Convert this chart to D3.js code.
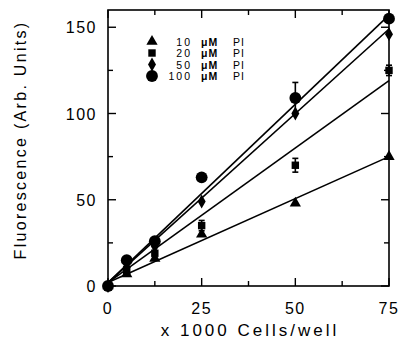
<!DOCTYPE html>
<html>
<head>
<meta charset="utf-8">
<script src="https://cdn.jsdelivr.net/npm/d3@7"></script>
<style>
  body { margin: 0; background: #fff; }
  text { font-family: "Liberation Sans", Arial, sans-serif; fill: #000; }
</style>
</head>
<body>
<div id="wrapper"></div>
<script>
// data
const cells = [0, 5, 12.5, 25, 50, 75];
const pi10 = [0, 7, 16, 30, 48, 75];
const pi20 = [0, 9, 19, 35, 70, 125];
const pi50 = [0, 11, 23, 49, 100, 146];
const pi100 = [0, 15, 26, 63, 109, 155];

// error bars (x, y, +/-)
const errBars = [
  { x: 50, y: 109, e: 9 },
  { x: 50, y: 70, e: 4 },
  { x: 25, y: 35, e: 3 },
  { x: 75, y: 125, e: 3 }
];

// fitted lines: value at x = 0 and at x = 75
const fitStart = [2, 2, 2, 2];
const fitEnd = [75, 119, 149, 157];

const seriesNames = ["10 \u03bcM PI", "20 \u03bcM PI", "50 \u03bcM PI", "100 \u03bcM PI"];
const seriesShapes = ["triangle", "square", "diamond", "circle"];
const seriesValues = [pi10, pi20, pi50, pi100];

const xTicks = [0, 25, 50, 75];
const xMinor = [12.5, 37.5, 62.5];
const yTicks = [0, 50, 100, 150];
const yMinor = [25, 75, 125];

const width = 401, height = 349;
const margin = { top: 10, right: 12, bottom: 63, left: 108 };
const bw = width - margin.left - margin.right;
const bh = height - margin.top - margin.bottom;

const svg = d3.select("#wrapper").append("svg")
  .attr("width", width).attr("height", height);
const bounds = svg.append("g")
  .attr("transform", `translate(${margin.left},${margin.top})`);

const xScale = d3.scaleLinear().domain([0, 75]).range([0, bw]);
const yScale = d3.scaleLinear().domain([0, 160]).range([bh, 0]);

// frame
bounds.append("rect")
  .attr("width", bw).attr("height", bh)
  .attr("fill", "none").attr("stroke", "#000").attr("stroke-width", 1.6);

// inward ticks on all four sides
const tickG = bounds.append("g").attr("stroke", "#000").attr("stroke-width", 1.4);
xTicks.concat(xMinor).forEach(v => {
  const len = xTicks.includes(v) ? 8 : 5;
  tickG.append("line").attr("x1", xScale(v)).attr("x2", xScale(v)).attr("y1", bh).attr("y2", bh - len);
  tickG.append("line").attr("x1", xScale(v)).attr("x2", xScale(v)).attr("y1", 0).attr("y2", len);
});
yTicks.concat(yMinor).forEach(v => {
  const len = yTicks.includes(v) ? 8 : 5;
  tickG.append("line").attr("y1", yScale(v)).attr("y2", yScale(v)).attr("x1", 0).attr("x2", len);
  tickG.append("line").attr("y1", yScale(v)).attr("y2", yScale(v)).attr("x1", bw).attr("x2", bw - len);
});

// tick labels
bounds.selectAll(".xlab").data(xTicks).enter().append("text")
  .attr("x", d => xScale(d)).attr("y", bh + 28)
  .attr("text-anchor", "middle")
  .style("font-size", "16px").style("letter-spacing", "1.5px")
  .text(d => d);
bounds.selectAll(".ylab").data(yTicks).enter().append("text")
  .attr("x", -11).attr("y", d => yScale(d) + 6)
  .attr("text-anchor", "end")
  .style("font-size", "16px").style("letter-spacing", "1.5px")
  .text(d => d);

// axis titles
svg.append("text")
  .attr("x", 250).attr("y", 336)
  .attr("text-anchor", "middle")
  .style("font-size", "17px").style("letter-spacing", "3px")
  .text("x 1000 Cells/well");
svg.append("text")
  .attr("transform", `translate(26,140) rotate(-90)`)
  .attr("text-anchor", "middle")
  .style("font-size", "16px").style("letter-spacing", "2.3px")
  .text("Fluorescence (Arb. Units)");

// fit lines
const lineG = bounds.append("g").attr("stroke", "#000").attr("stroke-width", 1.6);
fitStart.forEach((s, i) => {
  lineG.append("line")
    .attr("x1", xScale(0)).attr("y1", yScale(s))
    .attr("x2", xScale(75)).attr("y2", yScale(fitEnd[i]));
});

// error bars
const errG = bounds.append("g").attr("stroke", "#000").attr("stroke-width", 1.6);
errBars.forEach(d => {
  const x = xScale(d.x);
  errG.append("line").attr("x1", x).attr("x2", x).attr("y1", yScale(d.y - d.e)).attr("y2", yScale(d.y + d.e));
  errG.append("line").attr("x1", x - 3).attr("x2", x + 3).attr("y1", yScale(d.y + d.e)).attr("y2", yScale(d.y + d.e));
  errG.append("line").attr("x1", x - 3).attr("x2", x + 3).attr("y1", yScale(d.y - d.e)).attr("y2", yScale(d.y - d.e));
});

const symbolTypes = {
  triangle: d3.symbol().type(d3.symbolTriangle).size(55),
  square: d3.symbol().type(d3.symbolSquare).size(55),
  diamond: d3.symbol().type(d3.symbolDiamond).size(55),
  circle: d3.symbol().type(d3.symbolCircle).size(110)
};

// points
seriesValues.forEach((vals, i) => {
  bounds.append("g").selectAll("path")
    .data(vals).enter().append("path")
    .attr("transform", (d, j) => `translate(${xScale(cells[j])},${yScale(d)})`)
    .attr("d", symbolTypes[seriesShapes[i]]())
    .attr("fill", "#000");
});

// legend
const legend = svg.append("g");
seriesNames.forEach((name, i) => {
  const y = 41.5 + i * 11.5;
  legend.append("path")
    .attr("transform", `translate(152,${y})`)
    .attr("d", symbolTypes[seriesShapes[i]]())
    .attr("fill", "#000");
  const parts = name.split(" ");
  legend.append("text").attr("x", 192).attr("y", y + 4)
    .attr("text-anchor", "end")
    .style("font-size", "10.5px").style("letter-spacing", "2px")
    .text(parts[0]);
  legend.append("text").attr("x", 201).attr("y", y + 4)
    .style("font-size", "10.5px").style("font-weight", "bold").style("letter-spacing", "1px")
    .text(parts[1]);
  legend.append("text").attr("x", 233).attr("y", y + 4)
    .style("font-size", "10.5px").style("letter-spacing", "1px")
    .text(parts[2]);
});
</script>
</body>
</html>
